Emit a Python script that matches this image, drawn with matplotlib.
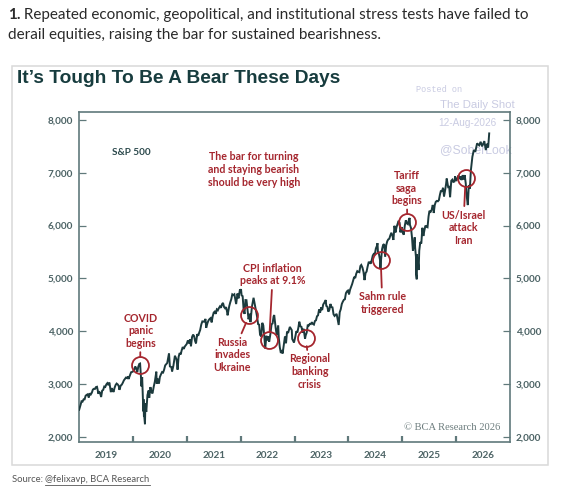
import matplotlib
matplotlib.use("Agg")
import matplotlib.pyplot as plt
import matplotlib.dates as mdates
from matplotlib.patches import Rectangle
from matplotlib.lines import Line2D
import pandas as pd

# ---------------- data ----------------
dates = [
    "2019-01-02","2019-01-11","2019-01-18","2019-01-25","2019-02-01","2019-02-08","2019-02-15","2019-02-22",
    "2019-03-01","2019-03-08","2019-03-15","2019-03-22","2019-03-29","2019-04-05","2019-04-12","2019-04-19",
    "2019-04-26","2019-05-03","2019-05-13","2019-05-17","2019-05-24","2019-05-31","2019-06-07","2019-06-14",
    "2019-06-21","2019-06-28","2019-07-05","2019-07-12","2019-07-19","2019-07-26","2019-08-05","2019-08-09",
    "2019-08-16","2019-08-23","2019-08-30","2019-09-06","2019-09-13","2019-09-20","2019-09-27","2019-10-02",
    "2019-10-11","2019-10-18","2019-10-25","2019-11-01","2019-11-08","2019-11-15","2019-11-22","2019-11-29",
    "2019-12-03","2019-12-13","2019-12-20","2019-12-31",
    "2020-01-10","2020-01-17","2020-01-24","2020-01-31","2020-02-07","2020-02-14","2020-02-19","2020-02-25",
    "2020-02-28","2020-03-04","2020-03-09","2020-03-12","2020-03-13","2020-03-16","2020-03-18","2020-03-23",
    "2020-03-26","2020-04-01","2020-04-09","2020-04-17","2020-04-21","2020-04-29","2020-05-06","2020-05-13",
    "2020-05-22","2020-05-29","2020-06-08","2020-06-11","2020-06-19","2020-06-26","2020-07-02","2020-07-10",
    "2020-07-17","2020-07-24","2020-07-31","2020-08-07","2020-08-14","2020-08-21","2020-08-28","2020-09-02",
    "2020-09-08","2020-09-18","2020-09-23","2020-10-02","2020-10-09","2020-10-12","2020-10-23","2020-10-30",
    "2020-11-06","2020-11-13","2020-11-20","2020-11-27","2020-12-04","2020-12-11","2020-12-18","2020-12-31",
    "2021-01-08","2021-01-15","2021-01-22","2021-01-29","2021-02-05","2021-02-12","2021-02-19","2021-02-26",
    "2021-03-04","2021-03-12","2021-03-19","2021-03-26","2021-04-01","2021-04-09","2021-04-16","2021-04-23",
    "2021-04-30","2021-05-07","2021-05-12","2021-05-21","2021-05-28","2021-06-04","2021-06-11","2021-06-18",
    "2021-06-25","2021-07-02","2021-07-09","2021-07-16","2021-07-23","2021-07-30","2021-08-06","2021-08-13",
    "2021-08-20","2021-08-27","2021-09-03","2021-09-10","2021-09-17","2021-09-24","2021-10-01","2021-10-04",
    "2021-10-15","2021-10-22","2021-10-29","2021-11-05","2021-11-12","2021-11-19","2021-11-26","2021-12-01",
    "2021-12-10","2021-12-17","2021-12-27","2021-12-31",
    "2022-01-03","2022-01-07","2022-01-14","2022-01-21","2022-01-27","2022-02-02","2022-02-09","2022-02-18",
    "2022-02-23","2022-03-04","2022-03-08","2022-03-18","2022-03-29","2022-04-08","2022-04-14","2022-04-22",
    "2022-04-29","2022-05-06","2022-05-12","2022-05-20","2022-05-27","2022-06-03","2022-06-10","2022-06-16",
    "2022-06-24","2022-07-01","2022-07-08","2022-07-13","2022-07-22","2022-07-29","2022-08-05","2022-08-12",
    "2022-08-16","2022-08-26","2022-09-02","2022-09-12","2022-09-16","2022-09-23","2022-09-30","2022-10-07",
    "2022-10-12","2022-10-21","2022-10-28","2022-11-04","2022-11-11","2022-11-18","2022-11-30","2022-12-02",
    "2022-12-13","2022-12-16","2022-12-28",
    "2023-01-06","2023-01-13","2023-01-20","2023-01-27","2023-02-02","2023-02-10","2023-02-17","2023-02-24",
    "2023-03-03","2023-03-13","2023-03-17","2023-03-24","2023-03-31","2023-04-07","2023-04-14","2023-04-21",
    "2023-04-28","2023-05-05","2023-05-12","2023-05-19","2023-05-26","2023-06-02","2023-06-09","2023-06-16",
    "2023-06-23","2023-06-30","2023-07-07","2023-07-14","2023-07-21","2023-07-31","2023-08-04","2023-08-11",
    "2023-08-18","2023-08-25","2023-09-01","2023-09-08","2023-09-15","2023-09-22","2023-09-29","2023-10-06",
    "2023-10-13","2023-10-20","2023-10-27","2023-11-03","2023-11-10","2023-11-17","2023-11-24","2023-12-01",
    "2023-12-08","2023-12-15","2023-12-22","2023-12-29",
    "2024-01-05","2024-01-12","2024-01-19","2024-01-26","2024-02-02","2024-02-09","2024-02-16","2024-02-23",
    "2024-03-01","2024-03-08","2024-03-15","2024-03-22","2024-03-28","2024-04-05","2024-04-12","2024-04-19",
    "2024-04-26","2024-05-03","2024-05-10","2024-05-17","2024-05-24","2024-05-31","2024-06-07","2024-06-14",
    "2024-06-21","2024-06-28","2024-07-05","2024-07-12","2024-07-16","2024-07-19","2024-07-26","2024-08-02",
    "2024-08-05","2024-08-09","2024-08-16","2024-08-23","2024-08-30","2024-09-06","2024-09-13","2024-09-20",
    "2024-09-27","2024-10-04","2024-10-11","2024-10-18","2024-10-25","2024-11-01","2024-11-08","2024-11-15",
    "2024-11-22","2024-11-29","2024-12-06","2024-12-13","2024-12-18","2024-12-27","2024-12-31",
    "2025-01-10","2025-01-17","2025-01-24","2025-01-31","2025-02-07","2025-02-14","2025-02-19","2025-02-21",
    "2025-02-28","2025-03-07","2025-03-13","2025-03-21","2025-03-25","2025-03-28","2025-04-03","2025-04-04",
    "2025-04-08","2025-04-09","2025-04-11","2025-04-17","2025-04-21","2025-04-25","2025-05-02","2025-05-09",
    "2025-05-16","2025-05-23","2025-05-30","2025-06-06","2025-06-13","2025-06-20","2025-06-27","2025-07-03",
    "2025-07-11","2025-07-18","2025-07-25","2025-07-31","2025-08-01","2025-08-08","2025-08-15","2025-08-22",
    "2025-08-29","2025-09-05","2025-09-12","2025-09-19","2025-09-26","2025-10-03","2025-10-10","2025-10-17",
    "2025-10-24","2025-10-28","2025-11-07","2025-11-14","2025-11-20","2025-11-28","2025-12-05","2025-12-12",
    "2025-12-19","2025-12-24","2025-12-31",
    "2026-01-09","2026-01-16","2026-01-23","2026-01-30","2026-02-06","2026-02-13","2026-02-20","2026-02-27",
    "2026-03-06","2026-03-13","2026-03-20","2026-03-27","2026-04-03","2026-04-10","2026-04-20","2026-04-30",
    "2026-05-10","2026-05-22","2026-06-05","2026-06-15","2026-06-25","2026-07-10","2026-07-20","2026-07-28",
    "2026-08-05","2026-08-12",
]
values = [
    2510,2596,2671,2665,2707,2708,2776,2793,2804,2743,2822,2801,2834,2893,2907,2905,
    2940,2946,2812,2860,2826,2752,2873,2887,2950,2942,2990,3014,2977,3026,2844,2919,
    2889,2847,2926,2979,3007,2992,2962,2888,2970,2986,3023,3067,3093,3120,3110,3141,
    3093,3169,3221,3231,
    3265,3330,3295,3226,3328,3380,3386,3128,2954,3130,2747,2481,2711,2386,2398,2237,
    2631,2471,2790,2875,2737,2940,2849,2820,2955,3044,3232,3002,3098,3009,3130,3185,
    3225,3216,3271,3351,3373,3397,3508,3580,3332,3319,3237,3348,3477,3534,3465,3270,
    3510,3585,3557,3638,3699,3663,3709,3756,
    3825,3768,3841,3714,3887,3934,3907,3811,3768,3943,3913,3975,4020,4129,4185,4180,
    4181,4232,4063,4156,4204,4230,4247,4166,4281,4352,4370,4327,4412,4395,4437,4468,
    4442,4509,4535,4458,4433,4455,4357,4300,4471,4545,4605,4697,4683,4698,4595,4513,
    4712,4621,4791,4766,
    4797,4677,4663,4398,4326,4589,4587,4349,4225,4329,4170,4463,4632,4488,4393,4272,
    4132,4123,3930,3901,4158,4109,3901,3667,3912,3825,3899,3801,3962,4130,4145,4280,
    4305,4058,3924,4110,3873,3693,3586,3640,3577,3752,3901,3771,3993,3965,4080,4071,
    4019,3852,3783,
    3895,3999,3973,4071,4179,4090,4079,3970,4045,3855,3917,3971,4109,4105,4137,4133,
    4169,4136,4124,4192,4205,4282,4299,4410,4348,4450,4399,4505,4536,4589,4478,4464,
    4369,4406,4515,4457,4450,4320,4288,4308,4327,4224,4117,4358,4415,4514,4559,4594,
    4604,4719,4754,4770,
    4697,4784,4840,4891,4959,5027,5005,5089,5137,5124,5117,5234,5254,5204,5123,4967,
    5100,5128,5223,5303,5305,5278,5347,5432,5465,5460,5567,5615,5667,5505,5459,5346,
    5186,5344,5554,5634,5648,5408,5626,5703,5738,5751,5815,5864,5808,5729,5996,5870,
    5969,6032,6090,6051,5872,5971,5882,
    5827,5997,6101,6041,6026,6115,6144,6013,5955,5770,5521,5668,5777,5581,5397,5074,
    4982,5457,5363,5283,5158,5525,5686,5660,5958,5803,5912,6000,5977,5968,6173,6279,
    6260,6297,6389,6339,6238,6389,6450,6467,6460,6482,6584,6664,6644,6716,6553,6664,
    6791,6891,6728,6734,6538,6849,6870,6827,6834,6932,6845,
    6900,6950,6880,6930,6862,6956,6870,6956,6800,6550,6388,6767,6700,7050,7303,7430,
    7400,7557,7520,7587,7500,7600,7430,7550,7480,7746,
]

event_labels = ["COVID\npanic\nbegins", "Russia\ninvades\nUkraine", "CPI inflation\npeaks at 9.1%",
                "Regional\nbanking\ncrisis", "Sahm rule\ntriggered", "Tariff\nsaga\nbegins",
                "US/Israel\nattack\nIran"]
event_dates = ["2020-02-19", "2022-03-01", "2022-07-13", "2023-03-17", "2024-08-07", "2025-02-03", "2026-03-05"]
event_values = [3360, 4305, 3831, 3875, 5347, 6072, 6894]

year_labels = ["2019", "2020", "2021", "2022", "2023", "2024", "2025", "2026"]
y_ticks = [2000, 3000, 4000, 5000, 6000, 7000, 8000]

# ---------------- layout ----------------
W, H, DPI = 572, 497, 100
fig = plt.figure(figsize=(W / DPI, H / DPI), dpi=DPI)
fig.patch.set_facecolor("white")

def fx(px):
    return px / W

def fy(py):
    return 1 - py / H

AX_L, AX_R, AX_T, AX_B = 79, 510, 112.3, 442.3
ax = fig.add_axes([fx(AX_L), fy(AX_B), (AX_R - AX_L) / W, (AX_B - AX_T) / H])

def axfrac(px, py):
    return ((px - AX_L) / (AX_R - AX_L), (AX_B - py) / (AX_B - AX_T))

RED = "#a5262e"
TEAL = "#173c3e"
LINEC = "#1c3a3d"
SPINE = "#60797b"
LABC = "#4c6365"
WM = "#c9cbe2"
FONT = "Lato"
AFS = 7.7      # annotation font size
ALS = 1.17     # annotation line spacing

# outer panel frame
fig.add_artist(Rectangle((fx(12), fy(465)), (548 - 12) / W, (465 - 66) / H,
                         transform=fig.transFigure, fill=False, ec="#d9d9d9", lw=1.1))

# header text
t1 = fig.text(fx(8), fy(19), "1.", fontsize=11, fontweight="bold", family=FONT,
              color="#2a2a2a", va="baseline", ha="left")
plt.annotate(" Repeated economic, geopolitical, and institutional stress tests have failed to",
             xy=(1, 0), xycoords=t1, xytext=(0, 0), textcoords="offset points",
             fontsize=11, family=FONT, color="#2a2a2a", va="bottom", ha="left",
             annotation_clip=False)
fig.text(fx(8), fy(39.5), "derail equities, raising the bar for sustained bearishness.",
         fontsize=11, family=FONT, color="#2a2a2a", va="baseline", ha="left")

# chart title
fig.text(fx(17), fy(78.5), "It\u2019s Tough To Be A Bear These Days", fontsize=13.8,
         fontweight="bold", family="Liberation Sans", color=TEAL, va="center", ha="left")

# watermark (under the line)
ax.text(fx(462), fy(89.5), "Posted on", transform=fig.transFigure, fontsize=6.2,
        family="Liberation Mono", color=WM, ha="right", va="center", clip_on=False, zorder=0)
ax.text(fx(515), fy(105), "The Daily Shot", transform=fig.transFigure, fontsize=8.2,
        family="Liberation Sans", color=WM, ha="right", va="center", clip_on=False, zorder=0)
ax.text(fx(497), fy(123.3), "12-Aug-2026", transform=fig.transFigure, fontsize=7.2,
        family="Liberation Sans", color=WM, ha="right", va="center", clip_on=False, zorder=0)
ax.text(fx(440), fy(150), "@SoberLook", transform=fig.transFigure, fontsize=8.8,
        family="Liberation Sans", color=WM, ha="left", va="center", clip_on=False, zorder=0)

# series
x = mdates.date2num(pd.to_datetime(dates))
ax.plot(x, values, color=LINEC, lw=1.4, zorder=3, solid_joinstyle="miter")

ax.set_xlim(mdates.date2num(pd.Timestamp("2019-01-01")), mdates.date2num(pd.Timestamp("2026-12-31")))
ax.set_ylim(1894, 8146)

# axes styling
for s in ax.spines.values():
    s.set_color(SPINE)
    s.set_linewidth(1.2)

ax.set_yticks(y_ticks)
ax.set_yticklabels([f"{v:,}" for v in y_ticks])
ax.tick_params(axis="y", which="major", direction="in", length=5, width=0.9, color=SPINE,
               labelsize=7.2, labelcolor=LABC, pad=4.3, left=True, right=True,
               labelleft=True, labelright=True)
for lab in ax.get_yticklabels():
    lab.set_fontweight("bold")
    lab.set_family(FONT)

year_starts = [mdates.date2num(pd.Timestamp(f"{int(y) + 1}-01-01")) for y in year_labels[:-1]]
mid_years = [mdates.date2num(pd.Timestamp(f"{y}-07-02")) for y in year_labels]
ax.set_xticks(year_starts)
ax.set_xticklabels([""] * len(year_starts))
ax.set_xticks(mid_years, minor=True)
ax.set_xticklabels(year_labels, minor=True)
ax.tick_params(axis="x", which="major", direction="in", length=4.5, width=1.6, color=SPINE)
ax.tick_params(axis="x", which="minor", length=0, labelsize=7.2, labelcolor=LABC, pad=6)
for lab in ax.get_xticklabels(minor=True):
    lab.set_fontweight("bold")
    lab.set_family(FONT)

# annotations
ax.text(*axfrac(131, 152.7), "S&P 500", transform=ax.transAxes, fontsize=7.2, fontweight="bold",
        family=FONT, color="#2d4a4d", ha="center", va="center")
ax.text(*axfrac(254, 169.5), "The bar for turning\nand staying bearish\nshould be very high",
        transform=ax.transAxes, fontsize=AFS, fontweight="bold", family=FONT, color=RED,
        ha="center", va="center", multialignment="center", linespacing=ALS)

text_pos = [(140.7, 330.7), (232.3, 354.8), (272.7, 274.7), (310, 371.5),
            (382.3, 302.8), (406.7, 188), (463.3, 227.6)]
ex = mdates.date2num(pd.to_datetime(event_dates))
ax.plot(ex, event_values, "o", ms=12.2, mfc="none", mec=RED, mew=1.3, zorder=4)
for lbl, xx, yy, (px, py) in zip(event_labels, ex, event_values, text_pos):
    ax.annotate(lbl, xy=(xx, yy), xycoords="data", xytext=axfrac(px, py),
                textcoords="axes fraction", fontsize=AFS, fontweight="bold", family=FONT,
                color=RED, ha="center", va="center", multialignment="center", linespacing=ALS,
                arrowprops=dict(arrowstyle="-", color=RED, lw=1.3, shrinkA=0.5, shrinkB=6.1),
                zorder=4)

# copyright
ax.text(*axfrac(500, 427.7), "\u00a9 BCA Research 2026", transform=ax.transAxes, fontsize=7.6,
        family="Liberation Serif", color="#6d7d7e", ha="right", va="center")

# source line
s1 = fig.text(fx(12), fy(482.5), "Source: ", fontsize=6.8, family=FONT, color="#555555",
              va="baseline", ha="left")
fig.canvas.draw()
r = fig.canvas.get_renderer()
bb1 = s1.get_window_extent(r)
s2 = fig.text(bb1.x1 / W, fy(482.5), "@felixavp, BCA Research", fontsize=6.8, family=FONT,
              color="#555555", va="baseline", ha="left")
fig.canvas.draw()
bb2 = s2.get_window_extent(r)
yline = fy(484.5)
fig.add_artist(Line2D([bb2.x0 / W, bb2.x1 / W], [yline, yline], transform=fig.transFigure,
                      color="#555555", lw=0.6))

fig.savefig("out.png", dpi=DPI, facecolor="white")
